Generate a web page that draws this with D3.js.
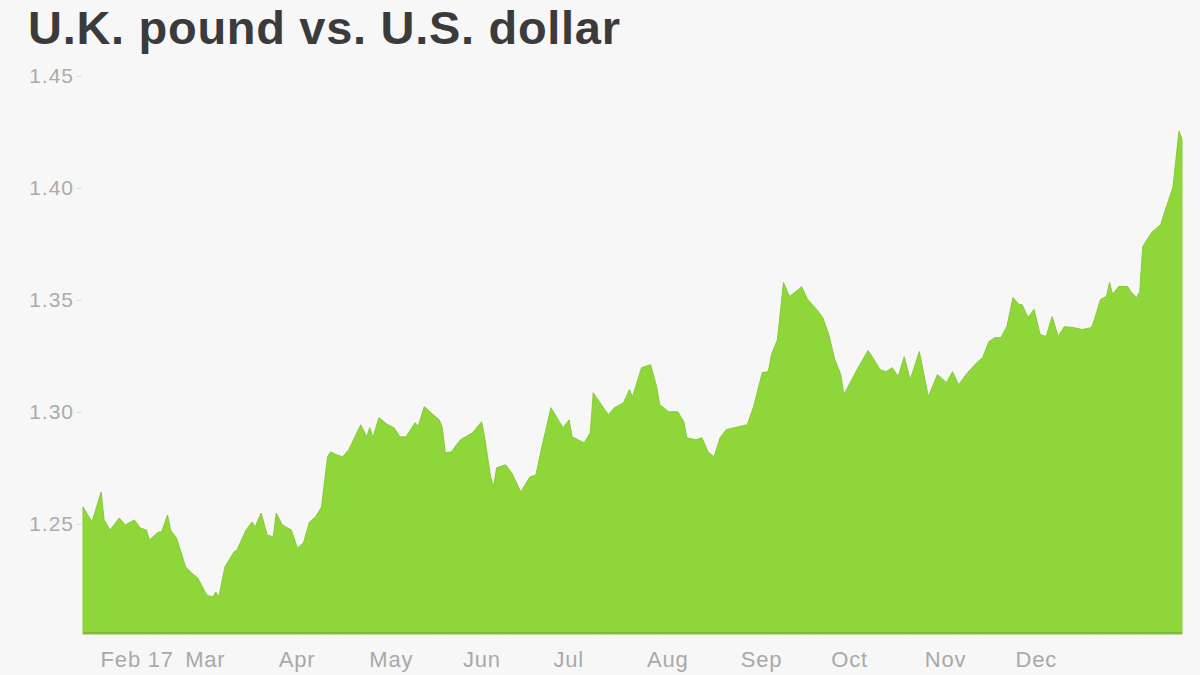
<!DOCTYPE html>
<html>
<head>
<meta charset="utf-8">
<script src="https://cdn.jsdelivr.net/npm/d3@7/dist/d3.min.js"></script>
<style>
  html, body { margin: 0; padding: 0; background: #f7f7f7; }
  svg { display: block; }
</style>
</head>
<body>
<svg id="chart" width="1200" height="675"></svg>
<script>
const title = "U.K. pound vs. U.S. dollar";

const dates = [
  "2017-01-26","2017-01-29","2017-02-01","2017-02-02","2017-02-04","2017-02-07","2017-02-09","2017-02-12",
  "2017-02-14","2017-02-16","2017-02-17","2017-02-20","2017-02-21","2017-02-23","2017-02-24","2017-02-26",
  "2017-03-01","2017-03-03","2017-03-05","2017-03-08","2017-03-10","2017-03-11","2017-03-12","2017-03-14",
  "2017-03-17","2017-03-18","2017-03-21","2017-03-23","2017-03-24","2017-03-26","2017-03-28","2017-03-30",
  "2017-03-31","2017-04-02","2017-04-05","2017-04-07","2017-04-09","2017-04-11","2017-04-13","2017-04-15",
  "2017-04-17","2017-04-18","2017-04-20","2017-04-22","2017-04-24","2017-04-28","2017-04-30","2017-05-01",
  "2017-05-02","2017-05-04","2017-05-07","2017-05-09","2017-05-11","2017-05-13","2017-05-16","2017-05-17",
  "2017-05-19","2017-05-22","2017-05-24","2017-05-25","2017-05-26","2017-05-28","2017-05-31","2017-06-04",
  "2017-06-07","2017-06-08","2017-06-10","2017-06-11","2017-06-12","2017-06-15","2017-06-17","2017-06-20",
  "2017-06-23","2017-06-25","2017-06-27","2017-06-30","2017-07-02","2017-07-04","2017-07-06","2017-07-07",
  "2017-07-11","2017-07-13","2017-07-14","2017-07-16","2017-07-19","2017-07-21","2017-07-24","2017-07-26",
  "2017-07-27","2017-07-30","2017-08-02","2017-08-04","2017-08-05","2017-08-08","2017-08-11","2017-08-13",
  "2017-08-14","2017-08-17","2017-08-19","2017-08-21","2017-08-23","2017-08-25","2017-08-27","2017-08-31",
  "2017-09-03","2017-09-05","2017-09-08","2017-09-10","2017-09-11","2017-09-13","2017-09-15","2017-09-17",
  "2017-09-20","2017-09-21","2017-09-23","2017-09-26","2017-09-28","2017-09-30","2017-10-02","2017-10-04",
  "2017-10-05","2017-10-09","2017-10-13","2017-10-15","2017-10-17","2017-10-19","2017-10-21","2017-10-23",
  "2017-10-25","2017-10-27","2017-10-30","2017-11-02","2017-11-05","2017-11-08","2017-11-10","2017-11-12",
  "2017-11-15","2017-11-18","2017-11-20","2017-11-22","2017-11-24","2017-11-26","2017-11-28","2017-11-30",
  "2017-12-02","2017-12-03","2017-12-05","2017-12-07","2017-12-09","2017-12-11","2017-12-13","2017-12-15",
  "2017-12-17","2017-12-20","2017-12-23","2017-12-26","2017-12-27","2017-12-29","2017-12-31","2018-01-01",
  "2018-01-02","2018-01-04","2018-01-07","2018-01-08","2018-01-10","2018-01-11","2018-01-12","2018-01-15",
  "2018-01-18","2018-01-19","2018-01-22","2018-01-24","2018-01-25"
];

const rates = [
  1.2576,1.2509,1.2643,1.2518,1.2473,1.2527,1.2496,1.2518,
  1.2482,1.2473,1.2429,1.2464,1.2464,1.2540,1.2473,1.2437,
  1.2308,1.2281,1.2259,1.2182,1.2174,1.2196,1.2174,1.2308,
  1.2375,1.2384,1.2473,1.2509,1.2487,1.2549,1.2451,1.2442,
  1.2549,1.2496,1.2473,1.2393,1.2415,1.2509,1.2531,1.2576,
  1.2800,1.2822,1.2809,1.2800,1.2831,1.2943,1.2889,1.2930,
  1.2885,1.2974,1.2943,1.2930,1.2889,1.2889,1.2952,1.2934,
  1.3024,1.2988,1.2965,1.2930,1.2818,1.2822,1.2876,1.2907,
  1.2956,1.2889,1.2710,1.2666,1.2751,1.2764,1.2728,1.2643,
  1.2710,1.2719,1.2845,1.3019,1.2974,1.2930,1.2965,1.2889,
  1.2862,1.2907,1.3086,1.3046,1.2988,1.3019,1.3041,1.3100,
  1.3068,1.3198,1.3211,1.3113,1.3033,1.3001,1.3001,1.2956,
  1.2885,1.2876,1.2885,1.2822,1.2800,1.2885,1.2921,1.2934,
  1.2943,1.3019,1.3176,1.3180,1.3256,1.3323,1.3578,1.3516,
  1.3547,1.3560,1.3502,1.3458,1.3422,1.3346,1.3234,1.3167,
  1.3077,1.3180,1.3275,1.3234,1.3189,1.3180,1.3198,1.3158,
  1.3247,1.3144,1.3270,1.3068,1.3167,1.3131,1.3180,1.3122,
  1.3176,1.3220,1.3243,1.3314,1.3332,1.3332,1.3381,1.3511,
  1.3480,1.3480,1.3422,1.3458,1.3346,1.3337,1.3426,1.3337,
  1.3381,1.3377,1.3368,1.3377,1.3413,1.3502,1.3516,1.3578,
  1.3525,1.3560,1.3560,1.3538,1.3511,1.3538,1.3739,1.3802,
  1.3838,1.3883,1.4003,1.4254,1.4218
];

const yTicks = [1.25, 1.30, 1.35, 1.40, 1.45];
const xTickDates = ["2017-02-01","2017-03-01","2017-04-01","2017-05-01","2017-06-01","2017-07-01",
                    "2017-08-01","2017-09-01","2017-10-01","2017-11-01","2017-12-01"];
const xTickLabels = ["Feb 17","Mar","Apr","May","Jun","Jul","Aug","Sep","Oct","Nov","Dec"];

const parse = d3.utcParse("%Y-%m-%d");
const data = dates.map((d, i) => ({ date: parse(d), value: rates[i] }));

const svg = d3.select("#chart");

svg.append("rect").attr("width", 1200).attr("height", 675).attr("fill", "#f7f7f7");

const x = d3.scaleUtc()
  .domain([parse("2017-01-26"), parse("2018-01-25")])
  .range([83, 1182]);

const y = d3.scaleLinear()
  .domain([1.20, 1.45])
  .range([636, 76]);

const baseY = 634;

// area
const area = d3.area()
  .x(d => x(d.date))
  .y0(baseY)
  .y1(d => y(d.value));

svg.append("path")
  .datum(data)
  .attr("d", area)
  .attr("fill", "#8fd63a")
  .attr("stroke", "#86cc35")
  .attr("stroke-width", 1);

// bottom edge
svg.append("line")
  .attr("x1", 83).attr("x2", 1182)
  .attr("y1", baseY - 1).attr("y2", baseY - 1)
  .attr("stroke", "#7fb840").attr("stroke-width", 2);

// title
svg.append("text")
  .attr("x", 28).attr("y", 44)
  .attr("font-family", "'Liberation Sans', Arial, sans-serif")
  .attr("font-weight", "bold")
  .attr("font-size", 47)
  .attr("letter-spacing", 0.7)
  .attr("fill", "#3b3b3b")
  .text(title);

// y axis
const yAxis = d3.axisLeft(y)
  .tickValues(yTicks)
  .tickFormat(d3.format(".2f"))
  .tickSize(5)
  .tickPadding(3);

const gy = svg.append("g")
  .attr("transform", "translate(82,0)")
  .call(yAxis);
gy.select(".domain").remove();
gy.selectAll(".tick line").attr("stroke", "#dcdcdc");
gy.selectAll(".tick text")
  .attr("font-family", "'Liberation Sans', Arial, sans-serif")
  .attr("font-size", 21)
  .attr("letter-spacing", 1)
  .attr("fill", "#ababab");

// x axis
const xAxis = d3.axisBottom(x)
  .tickValues(xTickDates.map(parse))
  .tickFormat((d, i) => xTickLabels[i])
  .tickSize(0)
  .tickPadding(0);

const gx = svg.append("g")
  .attr("transform", `translate(0,${baseY})`)
  .call(xAxis);
gx.select(".domain").remove();
gx.selectAll(".tick text")
  .attr("text-anchor", "start")
  .attr("dy", null)
  .attr("y", 33)
  .attr("x", -1)
  .attr("font-family", "'Liberation Sans', Arial, sans-serif")
  .attr("font-size", 22)
  .attr("letter-spacing", 0.8)
  .attr("fill", "#a9a9a9");
</script>
</body>
</html>
